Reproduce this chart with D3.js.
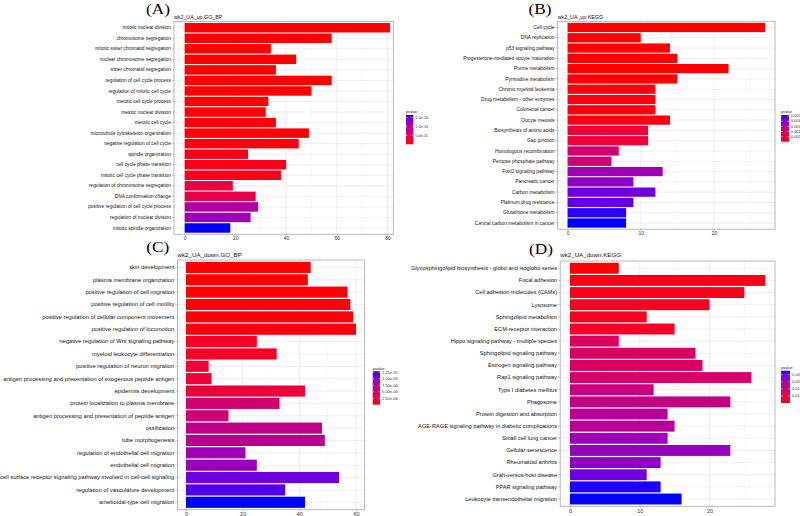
<!DOCTYPE html>
<html><head><meta charset="utf-8">
<script src="https://cdn.jsdelivr.net/npm/d3@7"></script>
<style>body{margin:0;background:#fff}svg{display:block;font-family:"Liberation Sans",Arial,sans-serif}</style>
</head><body><svg id="c" width="800" height="516"></svg>
<script>
// ---------- data ----------
const aCats = ["mitotic nuclear division","chromosome segregation","mitotic sister chromatid segregation","nuclear chromosome segregation","sister chromatid segregation","regulation of cell cycle process","regulation of mitotic cell cycle","meiotic cell cycle process","meiotic nuclear division","meiotic cell cycle","microtubule cytoskeleton organization","negative regulation of cell cycle","spindle organization","cell cycle phase transition","mitotic cell cycle phase transition","regulation of chromosome segregation","DNA conformation change","positive regulation of cell cycle process","regulation of nuclear division","mitotic spindle organization"];
const aCounts = [81,58,34,44,36,58,50,33,32,36,49,45,25,40,38,19,28,29,26,18];
const aPvalues = [1e-20,2e-14,1e-13,2e-13,4e-13,6e-13,1e-12,1.5e-12,2e-12,2.5e-12,3e-12,4e-12,7e-12,8e-12,9e-12,3.4e-11,3.6e-11,9.8e-11,1.15e-10,1.64e-10];
const aTicks = [0,20,40,60,80];
const aLegendBreaks = [5e-11,1e-10,1.5e-10];
const aLegendLabels = ["5.0e-11","1.0e-10","1.5e-10"];

const bCats = ["Cell cycle","DNA replication","p53 signaling pathway","Progesterone-mediated oocyte maturation","Purine metabolism","Pyrimidine metabolism","Chronic myeloid leukemia","Drug metabolism - other enzymes","Colorectal cancer","Oocyte meiosis","Biosynthesis of amino acids","Gap junction","Homologous recombination","Pentose phosphate pathway","FoxO signaling pathway","Pancreatic cancer","Carbon metabolism","Platinum drug resistance","Glutathione metabolism","Central carbon metabolism in cancer"];
const bCounts = [27,10,14,15,22,15,12,12,12,14,11,11,7,6,13,9,12,9,8,8];
const bPvalues = [1e-9,2e-6,5e-6,1e-5,2e-5,3e-5,1.2e-4,1.4e-4,1.5e-4,1.6e-4,7.6e-4,7.9e-4,2.0e-3,2.1e-3,3.6e-3,4.0e-3,4.5e-3,4.7e-3,5.1e-3,5.2e-3];
const bTicks = [0,10,20];
const bLegendBreaks = [0.001,0.002,0.003,0.004,0.005];
const bLegendLabels = ["0.001","0.002","0.003","0.004","0.005"];

const cCats = ["skin development","plasma membrane organization","positive regulation of cell migration","positive regulation of cell motility","positive regulation of cellular component movement","positive regulation of locomotion","negative regulation of Wnt signaling pathway","myeloid leukocyte differentiation","positive regulation of neuron migration","antigen processing and presentation of exogenous peptide antigen","epidermis development","protein localization to plasma membrane","antigen processing and presentation of peptide antigen","ossification","tube morphogenesis","regulation of endothelial cell migration","endothelial cell migration","cell surface receptor signaling pathway involved in cell-cell signaling","regulation of vasculature development","ameboidal-type cell migration"];
const cCounts = [44,43,57,58,59,60,25,32,8,9,42,33,15,48,49,21,25,54,35,42];
const cPvalues = [1e-8,5e-8,1e-7,1.5e-7,2e-7,3e-7,1.0e-6,1.1e-6,1.9e-6,2.0e-6,2.1e-6,4.9e-6,5.4e-6,6.4e-6,7.2e-6,9.0e-6,9.3e-6,1.12e-5,1.2e-5,1.29e-5];
const cTicks = [0,20,40,60];
const cLegendBreaks = [2.5e-6,5e-6,7.5e-6,1e-5,1.25e-5];
const cLegendLabels = ["2.50e-06","5.00e-06","7.50e-06","1.00e-05","1.25e-05"];

const dCats = ["Glycosphingolipid biosynthesis - globo and isoglobo series","Focal adhesion","Cell adhesion molecules (CAMs)","Lysosome","Sphingolipid metabolism","ECM-receptor interaction","Hippo signaling pathway - multiple species","Sphingolipid signaling pathway","Estrogen signaling pathway","Rap1 signaling pathway","Type I diabetes mellitus","Phagosome","Protein digestion and absorption","AGE-RAGE signaling pathway in diabetic complications","Small cell lung cancer","Cellular senescence","Rheumatoid arthritis","Graft-versus-host disease","PPAR signaling pathway","Leukocyte transendothelial migration"];
const dCounts = [7,28,25,20,11,15,7,18,19,26,12,23,14,15,14,23,13,11,13,16];
const dPvalues = [3e-4,2.0e-3,3.0e-3,3.2e-3,3.4e-3,4.5e-3,1.45e-2,1.47e-2,1.5e-2,1.65e-2,2.05e-2,2.2e-2,2.55e-2,2.56e-2,3.2e-2,3.3e-2,3.45e-2,3.95e-2,4.5e-2,4.55e-2];
const dTicks = [0,10,20];
const dLegendBreaks = [0.01,0.02,0.03,0.04];
const dLegendLabels = ["0.01","0.02","0.03","0.04"];

// ---------- layout ----------
const panels = [
  {tag:"(A)", title:"wk2_UA_up.GO_BP", cats:aCats, counts:aCounts, p:aPvalues, ticks:aTicks, lb:aLegendBreaks, ll:aLegendLabels,
   L:{x0:174,x1:393.3,expL:0.052,expR:0.016,y0:21.4,y1:234.3,labFs:4.8,tickFs:5,titleFs:5.3,titleY:19.3,tagX:158,tagY:13.6,
      leg:{x:406,y:115,w:7.3,h:29.3,fs:3.8}}},
  {tag:"(B)", title:"wk2_UA_up.KEGG", cats:bCats, counts:bCounts, p:bPvalues, ticks:bTicks, lb:bLegendBreaks, ll:bLegendLabels,
   L:{x0:557.7,x1:775,expL:0.05,expR:0.05,y0:21.3,y1:229.2,labFs:4.9,tickFs:5,titleFs:5.3,titleY:18.7,tagX:540,tagY:14,
      leg:{x:781,y:115,w:8,h:26.7,fs:3.8}}},
  {tag:"(C)", title:"wk2_UA_down.GO_BP", cats:cCats, counts:cCounts, p:cPvalues, ticks:cTicks, lb:cLegendBreaks, ll:cLegendLabels,
   L:{x0:177.5,x1:364.5,expL:0.05,expR:0.05,y0:260,y1:509.7,labFs:5.8,tickFs:5.5,titleFs:6.2,titleY:256.5,tagX:157.7,tagY:252,
      leg:{x:372.7,y:371.3,w:7.3,h:33.4,fs:4}}},
  {tag:"(D)", title:"wk2_UA_down.KEGG", cats:dCats, counts:dCounts, p:dPvalues, ticks:dTicks, lb:dLegendBreaks, ll:dLegendLabels,
   L:{x0:560.2,x1:775,expL:0.05,expR:0.05,y0:261,y1:506.3,labFs:5.65,tickFs:5.5,titleFs:6.2,titleY:256.5,tagX:541,tagY:253.5,
      leg:{x:781,y:370.7,w:9,h:32.3,fs:4}}}
];

const svg = d3.select("#c");
svg.append("rect").attr("width",800).attr("height",516).attr("fill","#fff");
const defs = svg.append("defs");

panels.forEach((P,pi)=>{
  const L = P.L;
  const g = svg.append("g");
  const max = d3.max(P.counts);
  const x = d3.scaleLinear().domain([-L.expL*max, (1+L.expR)*max]).range([L.x0, L.x1]);
  const y = d3.scaleBand().domain(P.cats).range([L.y0, L.y1]).paddingInner(0.1).paddingOuter(0.15);
  const pext = d3.extent(P.p);
  const color = d3.scaleLinear().domain(pext).range(["red","blue"]).interpolate(d3.interpolateLab);

  const cid = "clip"+pi;
  defs.append("clipPath").attr("id",cid).append("rect")
    .attr("x",L.x0).attr("y",L.y0).attr("width",L.x1-L.x0).attr("height",L.y1-L.y0);
  const pg = g.append("g").attr("clip-path",`url(#${cid})`);
  pg.append("rect").attr("x",L.x0).attr("y",L.y0).attr("width",L.x1-L.x0).attr("height",L.y1-L.y0).attr("fill","#fff");

  const step = P.ticks[1]-P.ticks[0];
  const minor = d3.range(P.ticks[0]-step/2, x.domain()[1], step).filter(v=>v>x.domain()[0]);
  pg.selectAll(".mn").data(minor).join("line")
    .attr("x1",d=>x(d)).attr("x2",d=>x(d)).attr("y1",L.y0).attr("y2",L.y1)
    .attr("stroke","#f3f3f3").attr("stroke-width",0.5);
  pg.selectAll(".mj").data(P.ticks).join("line")
    .attr("x1",d=>x(d)).attr("x2",d=>x(d)).attr("y1",L.y0).attr("y2",L.y1)
    .attr("stroke","#e6e6e6").attr("stroke-width",0.7);
  pg.selectAll(".hg").data(P.cats).join("line")
    .attr("x1",L.x0).attr("x2",L.x1).attr("y1",d=>y(d)+y.bandwidth()/2).attr("y2",d=>y(d)+y.bandwidth()/2)
    .attr("stroke","#e6e6e6").attr("stroke-width",0.7);

  pg.selectAll(".bar").data(P.cats).join("rect")
    .attr("x",x(0)).attr("y",d=>y(d))
    .attr("width",(d,i)=>x(P.counts[i])-x(0)).attr("height",y.bandwidth())
    .attr("fill",(d,i)=>color(P.p[i]));

  g.append("rect").attr("x",L.x0).attr("y",L.y0).attr("width",L.x1-L.x0).attr("height",L.y1-L.y0)
    .attr("fill","none").attr("stroke","#a8a8a8").attr("stroke-width",0.8);

  const ay = g.append("g").attr("transform",`translate(${L.x0},0)`)
    .call(d3.axisLeft(y).tickSize(2).tickPadding(1.2));
  ay.select(".domain").remove();
  ay.selectAll("line").attr("stroke","#888").attr("stroke-width",0.5);
  ay.selectAll("text").attr("font-size",L.labFs).attr("fill","#111");
  const ax = g.append("g").attr("transform",`translate(0,${L.y1})`)
    .call(d3.axisBottom(x).tickValues(P.ticks).tickSize(1.5).tickPadding(1));
  ax.select(".domain").remove();
  ax.selectAll("line").attr("stroke","#888").attr("stroke-width",0.5);
  ax.selectAll("text").attr("font-size",L.tickFs).attr("fill","#333");
  ay.attr("font-family",null); ax.attr("font-family",null);

  g.append("text").attr("x",L.x0).attr("y",L.titleY).attr("font-size",L.titleFs).attr("fill","#111").text(P.title);
  svg.append("text").attr("transform",`translate(${L.tagX},${L.tagY}) scale(1.15,1)`).attr("text-anchor","middle")
    .attr("font-family","'Liberation Serif','Times New Roman',serif").attr("font-size",15).attr("fill","#000").text(P.tag);

  const lg = L.leg;
  const gid = "grad"+pi;
  const grad = defs.append("linearGradient").attr("id",gid).attr("x1",0).attr("y1",1).attr("x2",0).attr("y2",0);
  d3.range(0,1.0001,0.05).forEach(t=>{
    grad.append("stop").attr("offset",t).attr("stop-color",color(pext[0]+t*(pext[1]-pext[0])));
  });
  const ly = d3.scaleLinear().domain(pext).range([lg.y+lg.h, lg.y]);
  g.append("text").attr("x",lg.x).attr("y",lg.y-1.6).attr("font-size",lg.fs).attr("fill","#222").text("pvalue");
  g.append("rect").attr("x",lg.x).attr("y",lg.y).attr("width",lg.w).attr("height",lg.h).attr("fill",`url(#${gid})`);
  P.lb.forEach((b,i)=>{
    const yy = ly(b);
    g.append("line").attr("x1",lg.x).attr("x2",lg.x+lg.w*0.2).attr("y1",yy).attr("y2",yy).attr("stroke","#fff").attr("stroke-width",0.5);
    g.append("line").attr("x1",lg.x+lg.w*0.8).attr("x2",lg.x+lg.w).attr("y1",yy).attr("y2",yy).attr("stroke","#fff").attr("stroke-width",0.5);
    g.append("text").attr("x",lg.x+lg.w+2).attr("y",yy).attr("dy","0.35em").attr("font-size",lg.fs).attr("fill","#333").text(P.ll[i]);
  });
});
</script></body></html>
